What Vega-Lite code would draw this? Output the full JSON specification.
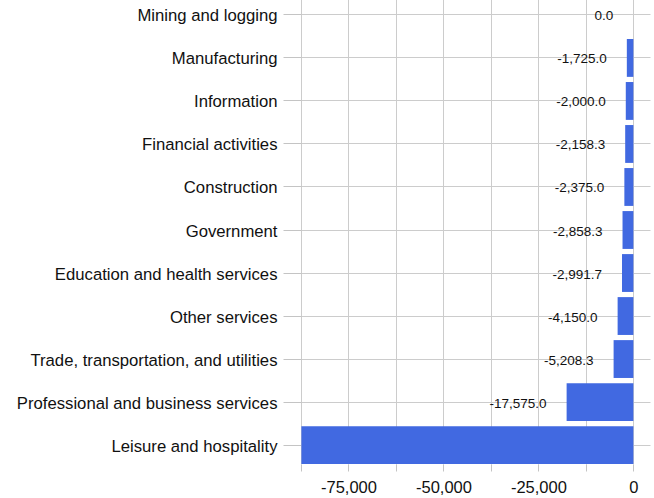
{
  "$schema": "https://vega.github.io/schema/vega-lite/v6.json",
  "width": 349,
  "height": 468,
  "autosize": {"type": "none"},
  "padding": {"left": 301, "top": -4, "right": 4, "bottom": 34},
  "background": "white",
  "config": {
    "view": {"stroke": null},
    "font": "Liberation Sans"
  },
  "data": {
    "values": [
      {"industry": "Mining and logging", "value": 0.0},
      {"industry": "Manufacturing", "value": -1725.0},
      {"industry": "Information", "value": -2000.0},
      {"industry": "Financial activities", "value": -2158.3},
      {"industry": "Construction", "value": -2375.0},
      {"industry": "Government", "value": -2858.3},
      {"industry": "Education and health services", "value": -2991.7},
      {"industry": "Other services", "value": -4150.0},
      {"industry": "Trade, transportation, and utilities", "value": -5208.3},
      {"industry": "Professional and business services", "value": -17575.0},
      {"industry": "Leisure and hospitality", "value": -87400.0}
    ]
  },
  "encoding": {
    "y": {
      "field": "industry",
      "type": "nominal",
      "sort": ["Mining and logging", "Manufacturing", "Information", "Financial activities", "Construction", "Government", "Education and health services", "Other services", "Trade, transportation, and utilities", "Professional and business services", "Leisure and hospitality"],
      "scale": {"paddingInner": 0.12, "paddingOuter": 0},
      "axis": {
        "title": null,
        "bandPosition": 0.5,
        "grid": true,
        "gridColor": "#cccccc",
        "gridWidth": 1,
        "domain": false,
        "tickSize": 18,
        "tickColor": "#c4c4c4",
        "labelPadding": 6,
        "labelOffset": 1.5,
        "labelFontSize": 16.7,
        "labelLimit": 0,
        "labelColor": "#111111",
        "labelFont": "Liberation Sans"
      }
    },
    "x": {
      "field": "value",
      "type": "quantitative",
      "scale": {"domain": [-87500, 4375], "nice": false, "zero": false},
      "axis": {
        "title": null,
        "values": [-87500, -75000, -62500, -50000, -37500, -25000, -12500, 0],
        "labelExpr": "datum.value % 25000 == 0 ? replace(format(datum.value, ','), '\u2212', '-') : ''",
        "grid": true,
        "gridColor": "#cccccc",
        "domain": false,
        "tickSize": 7,
        "tickColor": "#c4c4c4",
        "labelPadding": 8,
        "labelFontSize": 16.5,
        "labelColor": "#111111",
        "labelFont": "Liberation Sans"
      }
    }
  },
  "layer": [
    {
      "mark": {"type": "bar", "color": "#4169E1"}
    },
    {
      "transform": [
        {"filter": "datum.value > -80000"},
        {"calculate": "replace(format(datum.value, ',.1f'), '\u2212', '-')", "as": "label"}
      ],
      "mark": {
        "type": "text",
        "align": "right",
        "baseline": "middle",
        "dx": -20,
        "dy": 1.5,
        "fontSize": 13.5,
        "color": "#111111",
        "font": "Liberation Sans"
      },
      "encoding": {
        "text": {"field": "label", "type": "nominal"}
      }
    }
  ]
}
